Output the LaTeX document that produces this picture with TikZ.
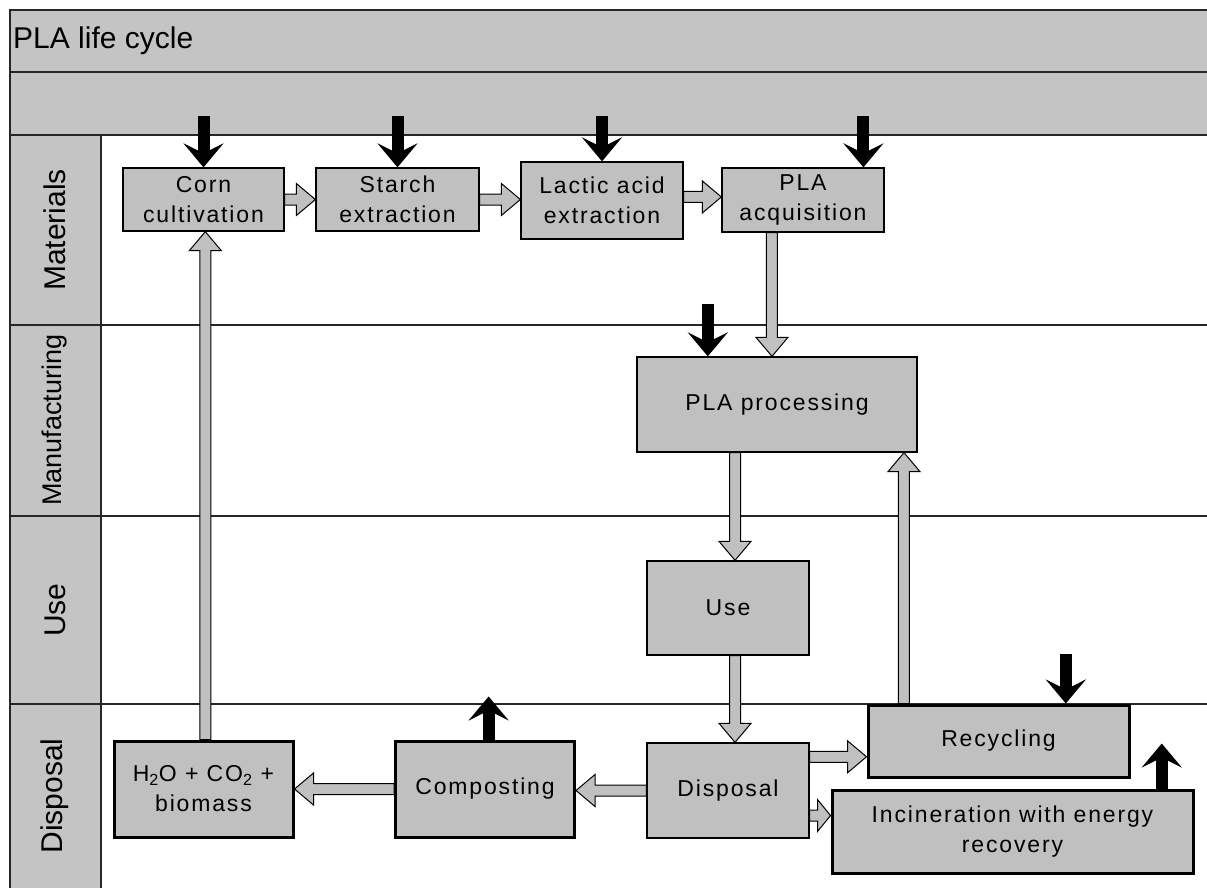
\documentclass[tikz,border=0pt]{standalone}
\usepackage{fontspec}
\setmainfont{Liberation Sans}
\usetikzlibrary{arrows.meta,calc}
\definecolor{boxgray}{RGB}{192,192,192}
\definecolor{bandgray}{RGB}{196,196,196}
\newcommand\boxfont{\fontsize{23}{30}\selectfont\addfontfeatures{LetterSpace=8}}
\newcommand\garr[3][19pt]{%
  \coordinate (gA) at (#2); \coordinate (gB) at (#3);
  \coordinate (gN) at ($(gB)!#1!(gA)$);
  \draw[flowarrow] ($(gA)!5.5pt!-90:(gB)$) -- ($(gN)!5.5pt!90:(gA)$) -- ($(gN)!16pt!90:(gA)$) -- (gB) -- ($(gN)!16pt!-90:(gA)$) -- ($(gN)!5.5pt!-90:(gA)$) -- ($(gA)!5.5pt!90:(gB)$) -- cycle;}
\tikzset{
  procbox/.style={draw=black, line width=1.3pt, fill=boxgray, inner sep=0pt, align=center, font=\boxfont},
  heavybox/.style={procbox, line width=3pt},
  flowarrow/.style={draw=black, line width=1pt, fill=boxgray, line join=miter},
  inarrow/.style={line width=12pt, -{Stealth[length=24pt,width=40pt,inset=10pt]}},
  lanelabel/.style={rotate=90, inner sep=0pt, font=\fontsize{30}{36}\selectfont},
  frameline/.style={line width=1.8pt, draw=black!85},
}
\begin{document}
\begin{tikzpicture}[x=1pt,y=-1pt]
\useasboundingbox (0,0) rectangle (1207,888);
\clip (0,0) rectangle (1207,888);
% background bands
\fill[bandgray] (10,10) rectangle (1210,135);
\fill[bandgray] (10,135) rectangle (101,890);
\draw[frameline] (10,890) -- (10,10) -- (1210,10);
\draw[frameline] (10,72) -- (1210,72);
\draw[frameline] (10,135) -- (1210,135);
\draw[frameline] (101,135) -- (101,890);
\draw[frameline, line width=1.5pt] (10,325) -- (1210,325);
\draw[frameline, line width=1.5pt] (10,516) -- (1210,516);
\draw[frameline, line width=1.5pt] (10,704) -- (1210,704);
% title and lanes
\node[anchor=base west, inner sep=0pt, font=\fontsize{30}{36}\selectfont] (title) at (13,49) {PLA life cycle};
\node[lanelabel] (lmat) at (55,230) {Materials};
\node[lanelabel, font=\fontsize{27}{32}\selectfont] (lman) at (55,420) {Manufacturing};
\node[lanelabel] (luse) at (55,610) {Use};
\node[lanelabel] (ldis) at (55,796) {Disposal};
% process boxes
\node[procbox, minimum width=161pt, minimum height=63pt] (corn) at (203.5,199.5) {Corn\\cultivation};
\node[procbox, minimum width=163pt, minimum height=63pt] (starch) at (397.5,199.5) {Starch\\extraction};
\node[procbox, minimum width=162pt, minimum height=77pt] (lactic) at (602,200.5) {Lactic acid\\extraction};
\node[procbox, minimum width=162pt, minimum height=64pt] (acq) at (803,200) {PLA\\acquisition};
\node[procbox, minimum width=280pt, minimum height=95pt] (proc) at (777,404.5) {PLA processing};
\node[procbox, minimum width=162pt, minimum height=94pt] (use) at (728,608) {Use};
\node[procbox, minimum width=162pt, minimum height=95pt] (disp) at (728,790.5) {Disposal};
\node[heavybox, minimum width=261pt, minimum height=72pt] (rec) at (998.5,741) {Recycling};
\node[heavybox, minimum width=361pt, minimum height=83pt] (inc) at (1012.5,831.5) {Incineration with energy\\recovery};
\node[heavybox, minimum width=179pt, minimum height=96pt] (comp) at (485,789) {Composting};
\node[heavybox, minimum width=179pt, minimum height=96pt] (h2o) at (203.5,789) {H\textsubscript{2}O + CO\textsubscript{2} +\\biomass};
% flow arrows
\garr{corn.east}{corn.east -| starch.west}
\garr{starch.east}{starch.east -| lactic.west}
\coordinate (la) at ($(lactic.north east)!0.455!(lactic.south east)$);
\garr{la}{la -| acq.west}
\coordinate (a1) at ($(acq.south west)!0.31!(acq.south east)$);
\garr{a1}{a1 |- proc.north}
\coordinate (p1) at ($(use.north west)!0.543!(use.north east)$);
\garr{p1 |- proc.south}{p1}
\coordinate (u1) at ($(use.south west)!0.543!(use.south east)$);
\garr{u1}{u1 |- disp.north}
\garr{disp.west}{disp.west -| comp.east}
\garr{comp.west}{comp.west -| h2o.east}
\coordinate (hx) at ($(h2o.north west)!0.51!(h2o.north east)$);
\garr{hx}{hx |- corn.south}
\coordinate (d1) at ($(disp.north east)!0.15!(disp.south east)$);
\garr{d1}{d1 -| rec.west}
\coordinate (d2) at ($(disp.north east)!0.76!(disp.south east)$);
\garr[13pt]{d2}{d2 -| inc.west}
\coordinate (r1) at ($(rec.north west)!0.142!(rec.north east)$);
\garr{r1}{r1 |- proc.south}
% input / output arrows
\draw[inarrow] ($(corn.north)+(0,-51)$) -- (corn.north);
\draw[inarrow] ($(starch.north)+(0,-51)$) -- (starch.north);
\draw[inarrow] ($(lactic.north)+(0,-45)$) -- (lactic.north);
\coordinate (a2) at ($(acq.north west)!0.87!(acq.north east)$);
\draw[inarrow] ($(a2)+(0,-51)$) -- (a2);
\coordinate (p2) at ($(proc.north west)!0.254!(proc.north east)$);
\draw[inarrow] ($(p2)+(0,-52)$) -- (p2);
\coordinate (r2) at ($(rec.north west)!0.755!(rec.north east)$);
\draw[inarrow] ($(r2)+(0,-50)$) -- (r2);
\coordinate (c2) at ($(comp.north west)!0.52!(comp.north east)$);
\draw[inarrow] (c2) -- ($(c2)+(0,-43)$);
\coordinate (i2) at ($(inc.north west)!0.91!(inc.north east)$);
\draw[inarrow] (i2) -- ($(i2)+(0,-45)$);
\end{tikzpicture}
\end{document}
